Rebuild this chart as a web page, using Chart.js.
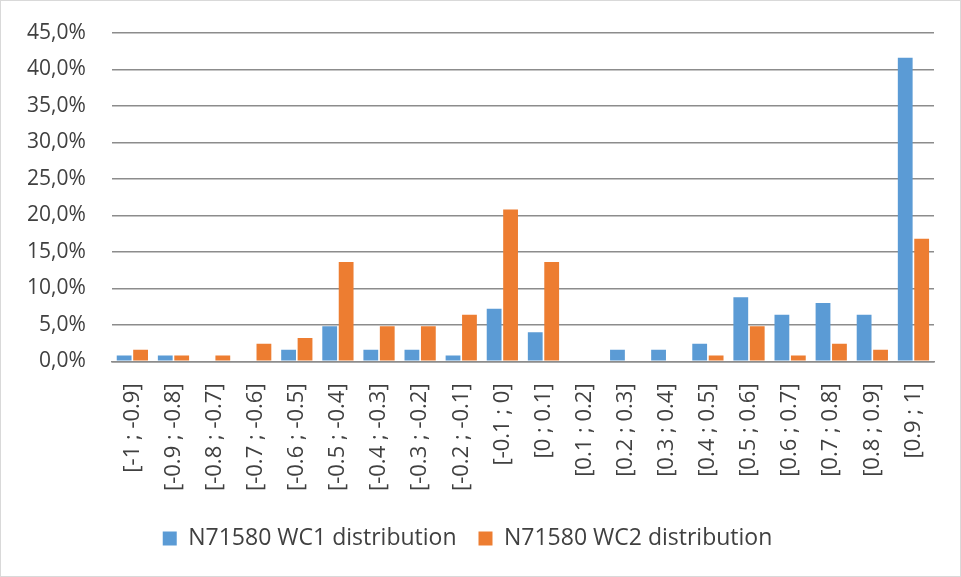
<!DOCTYPE html>
<html>
<head>
<meta charset="utf-8">
<script src="https://cdn.jsdelivr.net/npm/chart.js@4"></script>
<style>
  html, body { margin: 0; padding: 0; background: #fff; }
  #wrap { position: relative; width: 959px; height: 575px; border: 1px solid #d9d9d9; }
</style>
</head>
<body>
<div id="wrap"><canvas id="chart"></canvas></div>
<script>
// bins of the distribution
const categories = ['[-1 ; -0.9]', '[-0.9 ; -0.8]', '[-0.8 ; -0.7]', '[-0.7 ; -0.6]', '[-0.6 ; -0.5]',
  '[-0.5 ; -0.4]', '[-0.4 ; -0.3]', '[-0.3 ; -0.2]', '[-0.2 ; -0.1]', '[-0.1 ; 0]',
  '[0 ; 0.1]', '[0.1 ; 0.2]', '[0.2 ; 0.3]', '[0.3 ; 0.4]', '[0.4 ; 0.5]',
  '[0.5 ; 0.6]', '[0.6 ; 0.7]', '[0.7 ; 0.8]', '[0.8 ; 0.9]', '[0.9 ; 1]'];

// percentages
const wc1 = [0.8, 0.8, 0, 0, 1.6, 4.8, 1.6, 1.6, 0.8, 7.2, 4.0, 0, 1.6, 1.6, 2.4, 8.8, 6.4, 8.0, 6.4, 41.6];
const wc2 = [1.6, 0.8, 0.8, 2.4, 3.2, 13.6, 4.8, 4.8, 6.4, 20.8, 13.6, 0, 0, 0, 0.8, 4.8, 0.8, 2.4, 1.6, 16.8];

const yMax = 45;
const yStep = 5;

const fontFamily = "'Open Sans', 'Liberation Sans', sans-serif";

const ctx = document.getElementById('chart').getContext('2d');
new Chart(ctx, {
    type: 'bar',
    data: {
        labels: categories,
        datasets: [{
            label: 'N71580 WC1 distribution',
            data: wc1,
            backgroundColor: '#5b9bd5'
        }, {
            label: 'N71580 WC2 distribution',
            data: wc2,
            backgroundColor: '#ed7d31'
        }]
    },
    options: {
        responsive: true,
        maintainAspectRatio: false,
        animation: false,
        layout: { padding: { top: 0, right: 26, left: 0, bottom: 16 } },
        scales: {
            x: {
                categoryPercentage: 0.78,
                barPercentage: 0.9,
                grid: { display: false },
                border: { color: '#8c8c8c', width: 1.5 },
                ticks: {
                    minRotation: 90,
                    maxRotation: 90,
                    autoSkip: false,
                    padding: 14,
                    color: '#404040',
                    font: { family: fontFamily, size: 22 }
                }
            },
            y: {
                min: 0,
                max: yMax,
                border: { display: false },
                grid: { color: '#8c8c8c', lineWidth: 1.5, drawTicks: false },
                ticks: {
                    stepSize: yStep,
                    padding: 26,
                    color: '#404040',
                    font: { family: fontFamily, size: 21 },
                    callback: v => v.toFixed(1).replace('.', ',') + '%'
                },
                // tick padding also pads the top, pull the plot up a bit
                afterFit: scale => { scale.paddingTop = 32; }
            }
        },
        plugins: {
            legend: {
                position: 'bottom',
                labels: {
                    boxWidth: 14,
                    boxHeight: 14,
                    padding: 22,
                    color: '#404040',
                    font: { family: fontFamily, size: 23 }
                }
            },
            tooltip: { enabled: false }
        }
    }
});
</script>
</body>
</html>
